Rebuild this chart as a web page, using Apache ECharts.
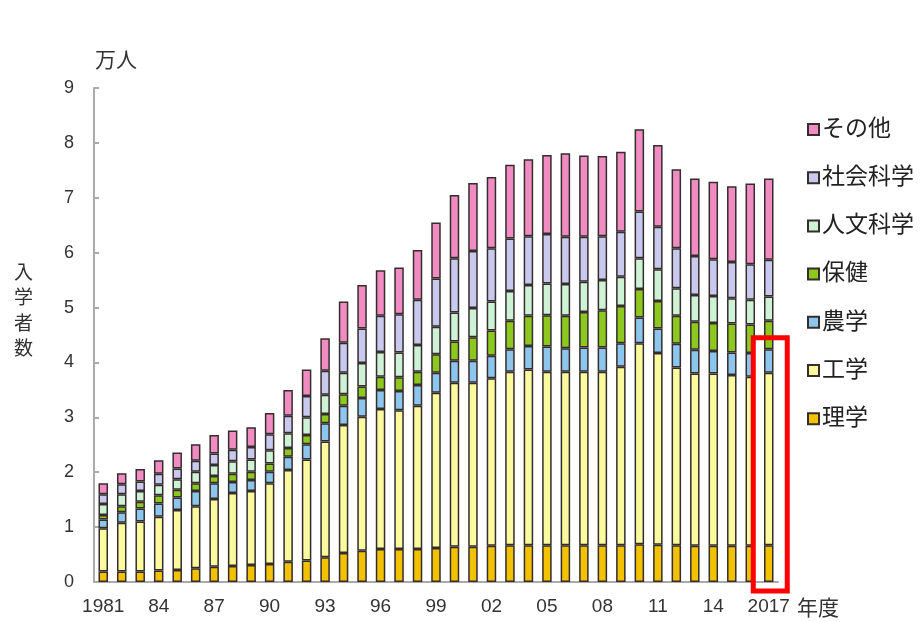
<!DOCTYPE html>
<html><head><meta charset="utf-8">
<script src="https://cdn.jsdelivr.net/npm/echarts@6/dist/echarts.min.js"></script>
<style>html,body{margin:0;padding:0;background:#fff}#c{width:924px;height:622px}</style>
</head><body><div id="c"></div>
<script>
const years = ['1981','82','83','84','85','86','87','88','89','90','91','92','93','94','95','96','97','98','99','00','01','02','03','04','05','06','07','08','09','10','11','12','13','14','15','16','2017'];
const yTicks = [0,1,2,3,4,5,6,7,8,9];
const rigaku  = [0.19,0.19,0.19,0.21,0.22,0.25,0.28,0.29,0.31,0.33,0.37,0.39,0.45,0.53,0.57,0.60,0.60,0.60,0.62,0.64,0.64,0.66,0.67,0.67,0.67,0.67,0.67,0.67,0.67,0.69,0.68,0.67,0.66,0.66,0.66,0.66,0.67];
const kougaku = [0.79,0.89,0.91,0.98,1.09,1.13,1.23,1.33,1.35,1.47,1.67,1.84,2.11,2.33,2.44,2.55,2.53,2.61,2.83,2.99,2.99,3.05,3.16,3.20,3.16,3.16,3.16,3.16,3.25,3.66,3.49,3.24,3.14,3.14,3.11,3.08,3.14];
const nougaku = [0.16,0.19,0.24,0.24,0.23,0.28,0.29,0.20,0.20,0.21,0.24,0.28,0.33,0.35,0.34,0.35,0.35,0.38,0.36,0.40,0.40,0.41,0.41,0.43,0.46,0.43,0.44,0.44,0.43,0.47,0.45,0.43,0.43,0.41,0.41,0.43,0.43];
const hoken   = [0.08,0.11,0.12,0.15,0.14,0.14,0.13,0.15,0.15,0.15,0.16,0.17,0.17,0.21,0.21,0.24,0.25,0.24,0.34,0.35,0.43,0.46,0.52,0.55,0.57,0.59,0.65,0.68,0.68,0.52,0.50,0.51,0.51,0.51,0.53,0.52,0.52];
const jinbun  = [0.20,0.22,0.20,0.19,0.19,0.21,0.20,0.23,0.22,0.24,0.27,0.32,0.35,0.39,0.43,0.45,0.45,0.49,0.50,0.53,0.53,0.53,0.54,0.56,0.58,0.58,0.55,0.55,0.53,0.56,0.58,0.50,0.49,0.49,0.46,0.45,0.44];
const shakai  = [0.18,0.18,0.17,0.20,0.20,0.20,0.21,0.21,0.23,0.29,0.32,0.39,0.44,0.55,0.63,0.66,0.70,0.82,0.88,0.99,1.04,0.97,0.96,0.89,0.90,0.86,0.82,0.80,0.82,0.85,0.77,0.73,0.71,0.67,0.66,0.65,0.67];
const sonota  = [0.20,0.20,0.23,0.25,0.29,0.30,0.34,0.35,0.36,0.39,0.47,0.48,0.59,0.75,0.79,0.83,0.85,0.91,1.02,1.15,1.24,1.30,1.34,1.40,1.44,1.52,1.48,1.46,1.46,1.50,1.49,1.44,1.41,1.41,1.38,1.47,1.48];
const seriesNames = ['理学','工学','農学','保健','人文科学','社会科学','その他'];
const seriesData = [rigaku,kougaku,nougaku,hoken,jinbun,shakai,sonota];
const colors = ['#f2c200','#fafa9e','#8cc6ec','#8cc81e','#cdf2d6','#c9c8ee','#f08cc2'];
const legendOrder = ['その他','社会科学','人文科学','保健','農学','工学','理学'];
const highlightYear = '2017';
const highlightTop = 4.45;

const FONT = "'Liberation Sans','Noto Sans CJK JP',sans-serif";
const chart = echarts.init(document.getElementById('c'));
const option = {
  backgroundColor:'#fff',
  animation:false,
  grid:{left:94,right:146,top:88,bottom:40,containLabel:false},
  legend:{
    orient:'vertical', left:802, top:113, itemGap:25.2,
    icon:'rect', itemWidth:11, itemHeight:11,
    data:legendOrder,
    textStyle:{fontFamily:FONT,fontSize:23,color:'#222',padding:[0,0,0,-2]}
  },
  xAxis:{
    type:'category', data:years,
    axisLine:{lineStyle:{color:'#aaa',width:2}},
    axisTick:{show:false},
    axisLabel:{interval:2,margin:15,fontFamily:FONT,fontSize:19,color:'#333'}
  },
  yAxis:{
    type:'value', min:0, max:9, interval:1,
    axisLine:{show:true,lineStyle:{color:'#aaa',width:2}},
    axisTick:{show:true,inside:true,length:5,lineStyle:{color:'#aaa',width:2}},
    splitLine:{show:false},
    axisLabel:{margin:20,fontFamily:FONT,fontSize:18,color:'#333',
      formatter:v=>yTicks.includes(v)?String(v):''}
  },
  series: seriesNames.map((n,i)=>({
    name:n, type:'bar', stack:'all', data:seriesData[i], barWidth:9.5,
    itemStyle:{color:colors[i],borderColor:'#352c2c',borderWidth:1.5}
  }))
};
chart.setOption(option);
const cx = chart.convertToPixel({xAxisIndex:0}, highlightYear);
const ty = chart.convertToPixel({yAxisIndex:0}, highlightTop);
const by = chart.convertToPixel({yAxisIndex:0}, 0);
chart.setOption({graphic:[
  {type:'text',left:95,top:49,style:{text:'万人',font:"21px 'Noto Sans CJK JP'",fill:'#333'}},
  {type:'text',left:14,top:259,style:{text:'入\n学\n者\n数',font:"19px 'Noto Sans CJK JP'",lineHeight:25.5,fill:'#333'}},
  {type:'text',left:797,top:597,style:{text:'年度',font:"21px 'Noto Sans CJK JP'",fill:'#333'}},
  {type:'rect',shape:{x:cx-15.5,y:ty,width:34,height:by-ty+9},style:{fill:'none',stroke:'#ff0000',lineWidth:5},z:100}
]});
</script></body></html>
